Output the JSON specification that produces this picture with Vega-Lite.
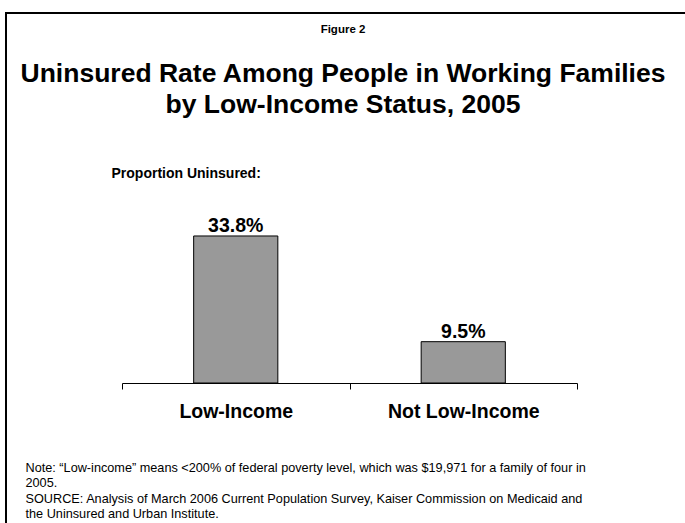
{
  "$schema": "https://vega.github.io/schema/vega-lite/v6.json",
  "autosize": {"type": "none"},
  "width": 680,
  "height": 530,
  "padding": {"left": 6, "top": 13, "right": 0, "bottom": 0},
  "background": "white",
  "config": {
    "font": "Liberation Sans",
    "view": {"stroke": "black", "strokeWidth": 2}
  },
  "title": {
    "text": "Figure 2",
    "subtitle": ["Uninsured Rate Among People in Working Families", "by Low-Income Status, 2005"],
    "anchor": "middle",
    "frame": "group",
    "fontSize": 11.5,
    "fontWeight": "bold",
    "color": "black",
    "subtitleFont": "Liberation Sans",
    "subtitleFontSize": 26.5,
    "subtitleFontWeight": "bold",
    "subtitleColor": "black",
    "subtitleLineHeight": 31,
    "subtitlePadding": 25,
    "offset": 0,
    "dy": 105,
    "dx": -3
  },
  "data": {
    "values": [
      {"status": "Low-Income", "rate": 0.338},
      {"status": "Not Low-Income", "rate": 0.095}
    ]
  },
  "encoding": {
    "x": {
      "field": "status",
      "type": "nominal",
      "sort": null,
      "scale": {
        "type": "band",
        "domain": ["Low-Income", "Not Low-Income"],
        "range": [116, 571],
        "paddingInner": 0,
        "paddingOuter": 0
      },
      "axis": {
        "orient": "bottom",
        "offset": -160,
        "domain": true,
        "domainColor": "black",
        "domainWidth": 1,
        "ticks": true,
        "tickBand": "extent",
        "tickColor": "black",
        "tickWidth": 1,
        "tickSize": 6,
        "labelFontSize": 19.5,
        "labelFontWeight": "bold",
        "labelColor": "black",
        "labelPadding": 13,
        "labelAngle": 0,
        "grid": false,
        "title": [
          "Note: “Low-income” means <200% of federal poverty level, which was $19,971 for a family of four in",
          "2005.",
          "SOURCE: Analysis of March 2006 Current Population Survey, Kaiser Commission on Medicaid and",
          "the Uninsured and Urban Institute."
        ],
        "titleFontSize": 12.7,
        "titleFontWeight": "normal",
        "titleColor": "black",
        "titleAlign": "left",
        "titleAnchor": "start",
        "titleX": 19,
        "titleY": 88,
        "titleBaseline": "alphabetic",
        "titleLineHeight": 15.5
      }
    },
    "y": {
      "field": "rate",
      "type": "quantitative",
      "scale": {"domain": [0, 0.4], "range": [370, 196], "nice": false, "zero": true},
      "axis": {
        "domain": false,
        "ticks": false,
        "labels": false,
        "grid": false,
        "title": "Proportion Uninsured:",
        "titleAngle": 0,
        "titleAlign": "left",
        "titleAnchor": "start",
        "titleBaseline": "alphabetic",
        "titleX": 105,
        "titleY": 164,
        "titleFontSize": 14,
        "titleFontWeight": "bold",
        "titleColor": "black"
      }
    }
  },
  "layer": [
    {
      "mark": {"type": "bar", "width": {"band": 0.37}, "fill": "#999999", "stroke": "black", "strokeWidth": 1}
    },
    {
      "mark": {"type": "text", "baseline": "alphabetic", "dy": -4, "fontSize": 19.5, "fontWeight": "bold", "color": "black"},
      "encoding": {"text": {"field": "rate", "type": "quantitative", "format": ".1%"}}
    }
  ]
}
